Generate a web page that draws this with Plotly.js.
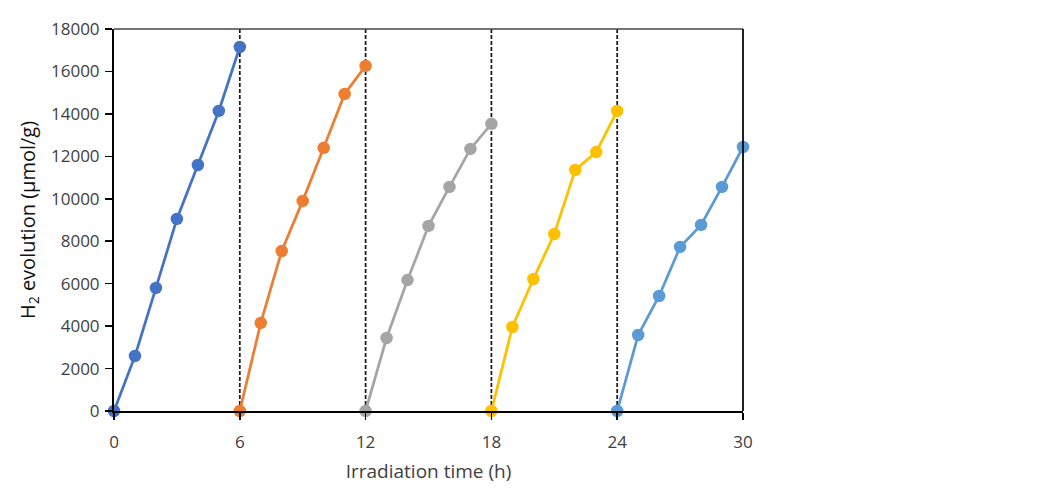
<!DOCTYPE html>
<html>
<head>
<meta charset="utf-8">
<script src="https://cdn.plot.ly/plotly-3.0.1.min.js"></script>
<style>html,body{margin:0;padding:0;background:#fff;}#chart{width:1058px;height:489px;}</style>
</head>
<body>
<div id="chart"></div>
<script>
const cycle1X = [0, 1, 2, 3, 4, 5, 6];
const cycle1Y = [0, 2590, 5800, 9050, 11590, 14140, 17150];
const cycle2X = [6, 7, 8, 9, 10, 11, 12];
const cycle2Y = [0, 4150, 7540, 9900, 12400, 14940, 16260];
const cycle3X = [12, 13, 14, 15, 16, 17, 18];
const cycle3Y = [0, 3440, 6170, 8720, 10560, 12350, 13530];
const cycle4X = [18, 19, 20, 21, 22, 23, 24];
const cycle4Y = [0, 3960, 6220, 8340, 11360, 12200, 14140];
const cycle5X = [24, 25, 26, 27, 28, 29, 30];
const cycle5Y = [0, 3580, 5420, 7730, 8770, 10560, 12440];
const dividers = [6, 12, 18, 24];
const xTicks = [0, 6, 12, 18, 24, 30];
const yTicks = [0, 2000, 4000, 6000, 8000, 10000, 12000, 14000, 16000, 18000];
const colors = ['#4472C4', '#ED7D31', '#A5A5A5', '#FFC000', '#5B9BD5'];

const xs = [cycle1X, cycle2X, cycle3X, cycle4X, cycle5X];
const ys = [cycle1Y, cycle2Y, cycle3Y, cycle4Y, cycle5Y];
const traces = xs.map((x, i) => ({
  x: x, y: ys[i], type: 'scatter', mode: 'lines+markers',
  line: {color: colors[i], width: 2.75},
  marker: {color: colors[i], size: 12.5},
  cliponaxis: false, showlegend: false
}));

const shapes = dividers.map(d => ({
  type: 'line', xref: 'x', yref: 'y', x0: d, x1: d, y0: 0, y1: 18000,
  line: {color: '#1a1a1a', width: 1.75, dash: '4px,2px'}, layer: 'below'
}));
shapes.push({type: 'line', xref: 'paper', yref: 'paper', x0: 0, x1: 1, y0: 1, y1: 1, line: {color: '#444', width: 1.5}});
shapes.push({type: 'line', xref: 'paper', yref: 'paper', x0: 1, x1: 1, y0: 0, y1: 1, line: {color: '#000', width: 1.75}});

const fam = 'Open Sans, Noto Sans, sans-serif';
const layout = {
  width: 1058, height: 489,
  margin: {l: 114, r: 315, t: 29, b: 78},
  paper_bgcolor: '#fff', plot_bgcolor: '#fff',
  font: {family: fam, size: 17, color: '#404040'},
  xaxis: {
    range: [0, 30], tickvals: xTicks, ticktext: xTicks.map(String),
    showgrid: false, zeroline: false, showline: true, linecolor: '#000', linewidth: 2,
    ticks: 'outside', ticklen: 7, tickcolor: '#000', tickwidth: 1.5,
    ticklabelstandoff: 8,
    tickfont: {family: fam, size: 17, color: '#404040'},
    title: {text: 'Irradiation time (h)', font: {family: fam, size: 19, color: '#404040'}, standoff: 12}
  },
  yaxis: {
    range: [0, 18000], tickvals: yTicks, ticktext: yTicks.map(String),
    showgrid: false, zeroline: false, showline: true, linecolor: '#000', linewidth: 2,
    ticks: 'outside', ticklen: 7, tickcolor: '#000', tickwidth: 1.5,
    ticklabelstandoff: 2,
    tickfont: {family: fam, size: 17, color: '#404040'},
    title: {text: 'H<sub>2</sub> evolution (μmol/g)', font: {family: fam, size: 20, color: '#111'}, standoff: 10}
  },
  shapes: shapes
};
Plotly.newPlot('chart', traces, layout, {displayModeBar: false, staticPlot: true});
</script>
</body>
</html>
